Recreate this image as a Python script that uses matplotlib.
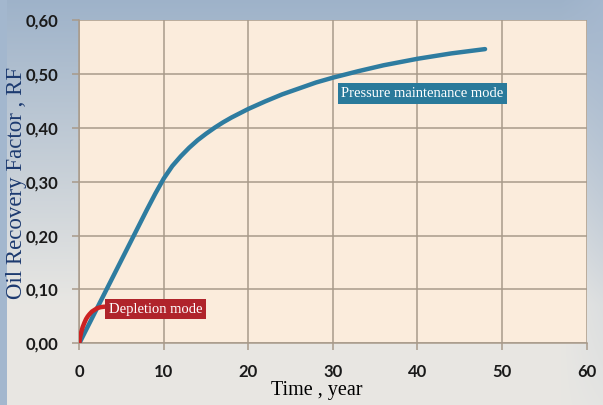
import numpy as np
import matplotlib
matplotlib.use("Agg")
import matplotlib.pyplot as plt

# Data
pm_time = [0, 2, 4, 6, 8, 9, 10, 11, 12, 13, 14, 15, 16, 17, 18, 19, 20, 22, 24, 26, 28, 30,
           33, 36, 40, 44, 48]
pm_rf = [0.0, 0.062, 0.124, 0.186, 0.248, 0.278, 0.306, 0.329, 0.347, 0.363, 0.377, 0.389,
         0.400, 0.410, 0.419, 0.427, 0.435, 0.449, 0.462, 0.473, 0.484, 0.493,
         0.505, 0.516, 0.528, 0.538, 0.546]
dep_time = [0, 0.1, 0.25, 0.4, 0.6, 0.8, 1.0, 1.2, 1.5, 1.8, 2.1, 2.5, 3.0]
dep_rf = [0.0, 0.012, 0.022, 0.030, 0.038, 0.045, 0.050, 0.054, 0.059, 0.062, 0.065, 0.067, 0.068]
x_ticks = [0, 10, 20, 30, 40, 50, 60]
y_ticks = [0.0, 0.1, 0.2, 0.3, 0.4, 0.5, 0.6]
y_tick_labels = ["0,00", "0,10", "0,20", "0,30", "0,40", "0,50", "0,60"]

W, H = 603, 405
fig = plt.figure(figsize=(W / 100, H / 100), dpi=100)

# background gradient
yy, xx = np.mgrid[0:H, 0:W]
top = np.array([0.62, 0.70, 0.79])
bot = np.array([0.91, 0.905, 0.89])
t = np.clip(yy / (H * 0.75), 0, 1)[..., None]
img = top * (1 - t) + bot * t
r = np.clip((xx - 560) / 43, 0, 1)[..., None] * np.clip(1 - yy / H * 0.9, 0, 1)[..., None]
img = img * (1 - 0.6 * r) + np.array([0.66, 0.73, 0.82]) * 0.6 * r
left = (xx < 7)[..., None]
img = np.where(left, np.array([0.64, 0.72, 0.81]), img)
bg = fig.add_axes([0, 0, 1, 1], zorder=-10)
bg.imshow(img, aspect="auto", extent=[0, 1, 0, 1])
bg.axis("off")

L, R, T, B = 79.3, 586.5, 20, 343.3
ax = fig.add_axes([L / W, 1 - B / H, (R - L) / W, (B - T) / H])
ax.set_facecolor("#fbecdc")
ax.set_xlim(0, 60)
ax.set_ylim(0, 0.6)
ax.set_xticks(x_ticks)
ax.set_yticks(y_ticks)
ax.set_yticklabels(y_tick_labels)
ax.grid(True, color="#a89a8a", linewidth=1.1)
ax.set_axisbelow(True)
for s in ["top", "right"]:
    ax.spines[s].set_visible(False)
for s in ["left", "bottom"]:
    ax.spines[s].set_color("#a89a8a")
    ax.spines[s].set_linewidth(1.1)
ax.tick_params(axis="both", direction="out", length=5, color="#a89a8a", width=1.1)
ax.tick_params(axis="x", pad=10)
ax.tick_params(axis="y", pad=10)
for lab in ax.get_xticklabels() + ax.get_yticklabels():
    lab.set_fontweight("bold")
    lab.set_color("#1a1a1a")
    lab.set_family("Lato")
    lab.set_fontsize(12)

ax.plot(pm_time, pm_rf, color="#2e7ca0", linewidth=3.2, solid_capstyle="round",
        solid_joinstyle="round", zorder=3)
ax.plot(dep_time, dep_rf, color="#cc2222", linewidth=3.2, solid_capstyle="round",
        solid_joinstyle="round", zorder=4)

ax.text(3.5, 0.0635, "Depletion mode", color="white", fontsize=10.5, family="Liberation Serif",
        va="center", ha="left", zorder=5,
        bbox=dict(boxstyle="square,pad=0.25", facecolor="#b0242b", edgecolor="none"))
ax.text(31.0, 0.4635, "Pressure maintenance mode", color="white", fontsize=10.5,
        family="Liberation Serif", va="center", ha="left", zorder=5,
        bbox=dict(boxstyle="square,pad=0.25", facecolor="#2a7a9b", edgecolor="none"))

fig.text(17 / W, 1 - 183 / H, "Oil Recovery Factor , RF", rotation=90, color="#1c3a70",
         fontsize=16.5, family="Liberation Serif", ha="center", va="center")
fig.text(317 / W, 1 - 390 / H, "Time , year", color="black", fontsize=14.5,
         family="Liberation Serif", ha="center", va="center")

fig.savefig("out.png", dpi=100)
